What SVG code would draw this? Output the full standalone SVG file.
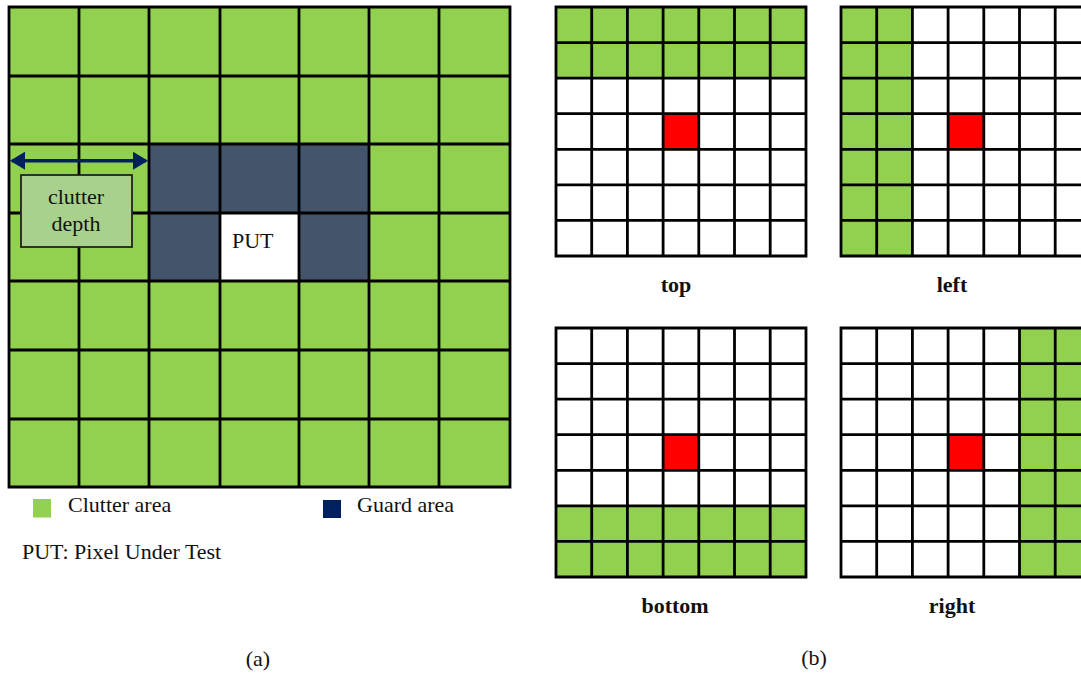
<svg xmlns="http://www.w3.org/2000/svg" width="1081" height="674" viewBox="0 0 1081 674">
<style>
.g{fill:#92d050}
.w{fill:#ffffff}
.r{fill:#ff0000}
.grid{fill:none;stroke:#000;stroke-width:2.8;stroke-linecap:square}
.t{font-family:"Liberation Serif","Times New Roman",serif;font-size:22px;fill:#111}
.b{font-family:"Liberation Serif","Times New Roman",serif;font-size:22px;font-weight:bold;fill:#111;text-anchor:middle}
</style>
<defs>
<marker id="ah" markerUnits="userSpaceOnUse" markerWidth="16" markerHeight="18" refX="13" refY="9" orient="auto-start-reverse" viewBox="0 0 16 18">
<path d="M0,0 L15,9 L0,18 Z" fill="#002060"/>
</marker>
</defs>
<rect width="1081" height="674" fill="#fff"/>

<g id="panel-a">
<rect x="9" y="7" width="501" height="480" class="g"/>
<rect x="149" y="144" width="220" height="137" fill="#44546a"/>
<rect x="220" y="213" width="79" height="68" class="w"/>
<path class="grid" d="M9,7V487M79,7V487M149,7V487M220,7V487M299,7V487M369,7V487M439,7V487M510,7V487M9,7H510M9,76H510M9,144H510M9,213H510M9,281H510M9,350H510M9,419H510M9,487H510"/>
<text class="t" x="232" y="248">PUT</text>
</g>

<g id="clutter-depth">
<rect x="21" y="175" width="111" height="72" fill="#a9d18e" stroke="#222" stroke-width="1.8"/>
<text class="t" x="76" y="204" text-anchor="middle">clutter</text>
<text class="t" x="76" y="231" text-anchor="middle">depth</text>
</g>

<g id="connectors">
<line x1="12" y1="160.7" x2="146" y2="160.7" stroke="#002060" stroke-width="3.5" marker-start="url(#ah)" marker-end="url(#ah)"/>
</g>

<g id="legend">
<rect x="33" y="499" width="18" height="18.5" fill="#92d050"/>
<text class="t" x="68" y="512">Clutter area</text>
<rect x="323" y="500" width="18" height="18" fill="#002060"/>
<text class="t" x="357" y="512">Guard area</text>
<text class="t" x="22" y="559">PUT: Pixel Under Test</text>
<text class="t" x="258" y="666" text-anchor="middle">(a)</text>
</g>

<g id="panel-top">
<rect x="556" y="7" width="250" height="249" class="w"/>
<rect x="556" y="7" width="250" height="71.1" class="g"/>
<rect x="663.1" y="113.7" width="35.7" height="35.6" class="r"/>
<path class="grid" d="M556,7V256M591.7,7V256M627.4,7V256M663.1,7V256M698.8,7V256M734.5,7V256M770.2,7V256M806,7V256M556,7H806M556,42.6H806M556,78.1H806M556,113.7H806M556,149.3H806M556,184.9H806M556,220.4H806M556,256H806"/>
<text class="b" x="676" y="292">top</text>
</g>

<g id="panel-left">
<rect x="841" y="7" width="240" height="249" class="w"/>
<rect x="841" y="7" width="71.4" height="249" class="g"/>
<rect x="948.1" y="113.7" width="35.7" height="35.6" class="r"/>
<path class="grid" d="M841,7V256M876.7,7V256M912.4,7V256M948.1,7V256M983.8,7V256M1019.5,7V256M1055.2,7V256M841,7H1085M841,42.6H1085M841,78.1H1085M841,113.7H1085M841,149.3H1085M841,184.9H1085M841,220.4H1085M841,256H1085"/>
<text class="b" x="952" y="292">left</text>
</g>

<g id="panel-bottom">
<rect x="556" y="328" width="250" height="249" class="w"/>
<rect x="556" y="505.9" width="250" height="71.1" class="g"/>
<rect x="663.1" y="434.7" width="35.7" height="35.6" class="r"/>
<path class="grid" d="M556,328V577M591.7,328V577M627.4,328V577M663.1,328V577M698.8,328V577M734.5,328V577M770.2,328V577M806,328V577M556,328H806M556,363.6H806M556,399.1H806M556,434.7H806M556,470.3H806M556,505.9H806M556,541.4H806M556,577H806"/>
<text class="b" x="675" y="613">bottom</text>
</g>

<g id="panel-right">
<rect x="841" y="328" width="240" height="249" class="w"/>
<rect x="1019.5" y="328" width="62" height="249" class="g"/>
<rect x="948.1" y="434.7" width="35.7" height="35.6" class="r"/>
<path class="grid" d="M841,328V577M876.7,328V577M912.4,328V577M948.1,328V577M983.8,328V577M1019.5,328V577M1055.2,328V577M841,328H1085M841,363.6H1085M841,399.1H1085M841,434.7H1085M841,470.3H1085M841,505.9H1085M841,541.4H1085M841,577H1085"/>
<text class="b" x="952" y="613">right</text>
</g>

<text class="t" x="814" y="665" text-anchor="middle">(b)</text>
</svg>
